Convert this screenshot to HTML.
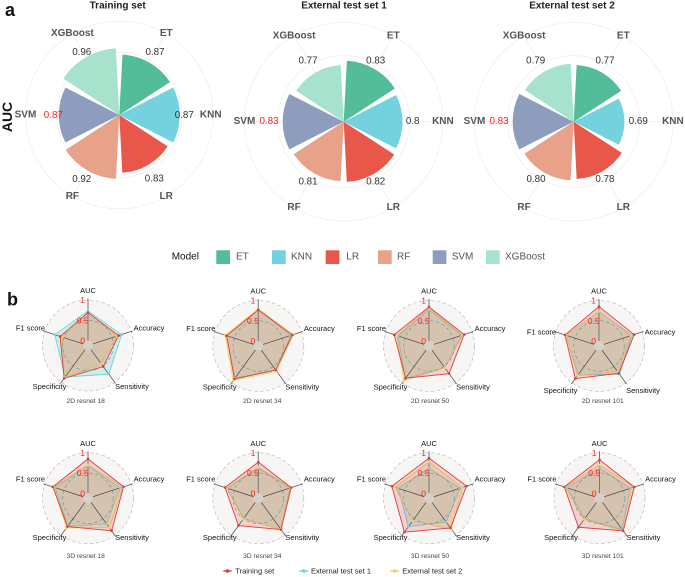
<!DOCTYPE html>
<html>
<head>
<meta charset="utf-8">
<style>
html,body{margin:0;padding:0;background:#fff;}
svg{display:block;font-family:"Liberation Sans",sans-serif;filter:blur(0.35px);}
</style>
</head>
<body>
<svg id="figure" width="685" height="577" viewBox="0 0 685 577" xmlns="http://www.w3.org/2000/svg"></svg>
<script>
/* ---------- panel a data ---------- */
const modelNames = ['ET','KNN','LR','RF','SVM','XGBoost'];
const modelColors = ['#53BC99','#74D2DE','#E8574A','#E9A28A','#8E9DBD','#A6E2CC'];
const aucTrainingValues = [0.87,0.87,0.83,0.92,0.87,0.96];
const aucExternal1Values = [0.83,0.80,0.82,0.81,0.83,0.77];
const aucExternal2Values = [0.77,0.69,0.78,0.80,0.83,0.79];
const aucTrainingPrinted = ['0.87','0.87','0.83','0.92','0.87','0.96'];
const aucExternal1Printed = ['0.83','0.8','0.82','0.81','0.83','0.77'];
const aucExternal2Printed = ['0.77','0.69','0.78','0.80','0.83','0.79'];

/* ---------- panel b data ---------- */
const radarAxes = ['AUC','Accuracy','Sensitivity','Specificity','F1 score'];
const radarTicks = [1,0.5,0];
const radarModels = ['2D resnet 18','2D resnet 34','2D resnet 50','2D resnet 101','3D resnet 18','3D resnet 34','3D resnet 50','3D resnet 101'];
const radarTraining = [
  [0.69,0.67,0.52,0.88,0.60],
  [0.77,0.76,0.61,0.88,0.70],
  [0.84,0.79,0.72,0.86,0.78],
  [0.85,0.79,0.71,0.87,0.76],
  [0.85,0.80,0.87,0.74,0.79],
  [0.77,0.73,0.83,0.71,0.74],
  [0.87,0.85,0.78,0.91,0.84],
  [0.83,0.78,0.87,0.76,0.79]
];
const radarExternal1 = [
  [0.73,0.75,0.75,0.84,0.74],
  [0.77,0.72,0.61,0.86,0.70],
  [0.77,0.73,0.54,0.87,0.68],
  [0.73,0.73,0.74,0.76,0.73],
  [0.68,0.71,0.66,0.73,0.73],
  [0.62,0.70,0.83,0.49,0.68],
  [0.62,0.68,0.60,0.74,0.68],
  [0.62,0.68,0.83,0.50,0.72]
];
const radarExternal2 = [
  [0.70,0.62,0.43,0.87,0.54],
  [0.79,0.79,0.65,0.93,0.74],
  [0.81,0.75,0.54,0.94,0.71],
  [0.73,0.70,0.66,0.78,0.73],
  [0.70,0.78,0.77,0.78,0.77],
  [0.65,0.72,0.82,0.51,0.70],
  [0.77,0.74,0.82,0.56,0.76],
  [0.70,0.77,0.88,0.52,0.77]
];
const radarSeriesNames = ['Training set','External test set 1','External test set 2'];

/* ---------- layout (not data) ---------- */
const NS = 'http://www.w3.org/2000/svg';
const fig = document.getElementById('figure');
const polarLayout = [
  {title:'Training set',titleX:117.7,cx:119.3,cy:115,k:69.5,slug:'training',
   nudge:[[5.5,-9.9],[4.5,.7],[6.2,14],[-5.6,9.3],[-5.5,.7],[-4.2,-4.5]],knnShift:-2.4},
  {title:'External test set 1',titleX:344,cx:343.7,cy:121.7,k:73.5,slug:'external-1',
   nudge:[[1.5,-7.9],[10.2,0],[1.9,8.1],[-5.9,8.8],[-13.7,0],[-7.4,-11.7]],knnShift:0},
  {title:'External test set 2',titleX:572,cx:573.7,cy:121.7,k:73.5,slug:'external-2',
   nudge:[[3,-11.7],[13.9,0],[2.6,8],[-8.3,6.7],[-13.7,0],[-9,-10.5]],knnShift:0}
];
const polarValues = [aucTrainingValues,aucExternal1Values,aucExternal2Values];
const polarPrinted = [aucTrainingPrinted,aucExternal1Printed,aucExternal2Printed];
const radarLayout = [
  {cx:88,cy:345.5,subX:85.7,subY:401.7,ly:0},
  {cx:258.3,cy:346,subX:262.3,subY:401.7,ly:0},
  {cx:429,cy:346,subX:430,subY:401.7,ly:0},
  {cx:599,cy:346,subX:602.7,subY:401.7,ly:3.3},
  {cx:88,cy:498.3,subX:85.7,subY:556.7,ly:-1.7},
  {cx:258.3,cy:498.3,subX:262.3,subY:556.7,ly:-1.7},
  {cx:429,cy:498.3,subX:430,subY:556.7,ly:-1.7},
  {cx:599.5,cy:498.3,subX:602.7,subY:556.7,ly:-1.7}
];
const radarLabelOffsets = [[0,-55],[61,-17.5],[44,41],[-38.5,41],[-57.5,-17.5]];
const seriesColors = ['#DE3B3F','#6FD0DC','#EBD467'];
const seriesFill = [0.2,0.3,0.25];
const drawOrder = [1,2,0];

function make(tag, attrs, parent){
  const el = document.createElementNS(NS, tag);
  for (const a in attrs) el.setAttribute(a, attrs[a]);
  (parent || fig).appendChild(el);
  return el;
}
function label(str, x, y, size, fill, weight, parent){
  const t = make('text',{x:x,y:y,'font-size':size,fill:fill,'font-weight':weight||'normal',
    'text-anchor':'middle','dominant-baseline':'central'},parent);
  t.textContent = str;
  return t;
}
function polar(cx,cy,r,deg){
  const a = deg*Math.PI/180;
  return [cx+r*Math.sin(a), cy-r*Math.cos(a)];
}

/* ---------- panel letters ---------- */
const letterA = label('a',10,10,18,'#111','bold');


const letterB = label('b',12.5,299.5,18,'#111','bold');


const aucTitle = label('AUC',0,0,14,'#111','bold');
aucTitle.setAttribute('transform','translate(7 117) rotate(-90)');



/* ---------- panel a: polar bars ---------- */
polarLayout.forEach(function(p, c){
  const g = make('g',{});
  
  
  const rad = function(v){ return v*p.k; };
  const outer = rad(1.35);

  const title = label(p.title,p.titleX,6,10,'#222','bold',g);
  
  

  [0.9,1.35].forEach(function(t){
    const ring = make('circle',{cx:p.cx,cy:p.cy,r:rad(t),fill:'none',stroke:'#EFEFEF','stroke-width':0.8},g);
    
    
  });
  modelNames.forEach(function(name,i){
    const end = polar(p.cx,p.cy,outer,30+60*i);
    const spoke = make('line',{x1:p.cx,y1:p.cy,x2:end[0],y2:end[1],stroke:'#EFEFEF','stroke-width':0.8},g);
    
    
  });
  polarValues[c].forEach(function(v,i){
    const r = rad(v);
    const a0 = polar(p.cx,p.cy,r,3+60*i);
    const a1 = polar(p.cx,p.cy,r,57+60*i);
    const d = 'M'+p.cx+' '+p.cy+'L'+a0[0]+' '+a0[1]+'A'+r+' '+r+' 0 0 1 '+a1[0]+' '+a1[1]+'Z';
    const bar = make('path',{d:d,fill:modelColors[i]},g);
    
    
  });
  polarValues[c].forEach(function(v,i){
    const tip = polar(p.cx,p.cy,rad(v),30+60*i);
    const isBest = i===4;
    const val = label(polarPrinted[c][i],tip[0]+p.nudge[i][0],tip[1]+p.nudge[i][1],9.8,isBest?'#FF2020':'#333','normal',g);
    
    
    const np = polar(p.cx,p.cy,outer,30+60*i);
    const nm = label(modelNames[i],np[0]+(i===1?p.knnShift:0),np[1],10,'#555','bold',g);
    
    
  });
});

/* ---------- panel a: legend ---------- */
const legendPos = [[216.3,236],[272,291],[325.7,346.3],[378,397],[432.7,451.7],[486,505]];
const legendTitle = make('text',{x:171.7,y:257,'font-size':10,fill:'#111','dominant-baseline':'central'});
legendTitle.textContent = 'Model';


modelNames.forEach(function(name,i){
  const sw = make('rect',{x:legendPos[i][0],y:250.3,width:13.7,height:13.7,fill:modelColors[i]});
  
  
  const t = make('text',{x:legendPos[i][1],y:257,'font-size':10,fill:'#555','dominant-baseline':'central'});
  t.textContent = name;
  
  
});

/* ---------- panel b: radars ---------- */
function rr(v){ return 5+40.5*v; }
radarModels.forEach(function(model,m){
  const L = radarLayout[m];
  const g = make('g',{});
  
  

  const bg = make('circle',{cx:L.cx,cy:L.cy,r:rr(1),fill:'#F7F6F4',stroke:'#BDBDBD','stroke-width':0.7,'stroke-dasharray':'3.5 2.5'},g);
  
  

  const seriesData = [radarTraining[m],radarExternal1[m],radarExternal2[m]];
  drawOrder.forEach(function(s){
    const pts = seriesData[s].map(function(v,i){ return polar(L.cx,L.cy,rr(v),72*i).join(','); }).join(' ');
    const poly = make('polygon',{points:pts,fill:seriesColors[s],'fill-opacity':seriesFill[s],stroke:seriesColors[s],'stroke-width':0.9,'stroke-linejoin':'round'},g);
    
    
  });
  const mid = make('circle',{cx:L.cx,cy:L.cy,r:rr(0.5),fill:'none',stroke:'#6F9F98','stroke-width':0.7,'stroke-dasharray':'3.5 2.5'},g);
  
  
  radarAxes.forEach(function(ax,i){
    const a = polar(L.cx,L.cy,rr(0),72*i);
    const b = polar(L.cx,L.cy,rr(1)+1.5,72*i);
    const sp = make('line',{x1:a[0],y1:a[1],x2:b[0],y2:b[1],stroke:i===0?'#777':'#444','stroke-width':i===0?1:0.7},g);
    
    
  });
  const hole = make('circle',{cx:L.cx,cy:L.cy,r:rr(0),fill:'#D6D1C8'},g);
  
  
  drawOrder.forEach(function(s){
    seriesData[s].forEach(function(v,i){
      const q = polar(L.cx,L.cy,rr(v),72*i);
      const dot = make('circle',{cx:q[0],cy:q[1],r:1.3,fill:seriesColors[s]},g);
      
      
    });
  });
  radarTicks.forEach(function(t){
    const tick = label(String(t),L.cx-5.3,L.cy-rr(t),8.6,'#FF2020','normal',g);
    
    
  });
  radarAxes.forEach(function(ax,i){
    const off = radarLabelOffsets[i];
    const extra = i===0 ? 0 : L.ly;
    const t = label(ax,L.cx+off[0],L.cy+off[1]+extra,7.5,'#111','normal',g);
    
    
  });
  const sub = label(model,L.subX,L.subY,6.7,'#444','normal',g);
  
  
});

/* ---------- panel b: legend ---------- */
const radarLegendPos = [[223.3,231.7,235.3],[299.3,308.3,311],[390,399.3,402.3]];
radarSeriesNames.forEach(function(name,s){
  const P = radarLegendPos[s];
  const ln = make('line',{x1:P[0],y1:571,x2:P[1],y2:571,stroke:seriesColors[s],'stroke-width':1.4});
  
  
  const d = make('circle',{cx:(P[0]+P[1])/2,cy:571,r:1.8,fill:seriesColors[s]});
  
  
  const t = make('text',{x:P[2],y:571,'font-size':7.5,fill:'#222','dominant-baseline':'central'});
  t.textContent = name;
  
  
});
</script>
</body>
</html>
